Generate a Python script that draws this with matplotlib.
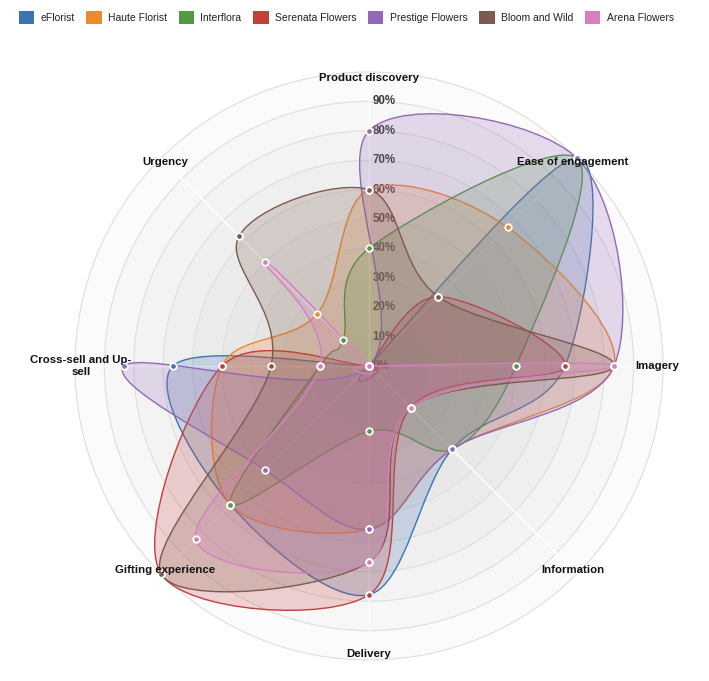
import matplotlib
matplotlib.use("Agg")
import matplotlib.pyplot as plt
import numpy as np
from matplotlib.path import Path
from matplotlib.patches import PathPatch, Circle, Rectangle

plt.rcParams['font.family'] = ['Liberation Sans', 'DejaVu Sans']

axes_names = ["Product discovery", "Ease of engagement", "Imagery", "Information",
              "Delivery", "Gifting experience", "Cross-sell and Up-\nsell", "Urgency"]

brands = ["eFlorist", "Haute Florist", "Interflora", "Serenata Flowers",
          "Prestige Flowers", "Bloom and Wild", "Arena Flowers"]
colors = ["#3e75b0", "#ef8a2c", "#529a43", "#c2403a", "#9369b5", "#7e5a4e", "#d680bf"]

# scores as fractions, in axis order above
eflorist = [0.0, 1.0, 4/6, 0.4, 7/9, 4/6, 4/6, 0.0]
haute    = [0.6, 4/6, 5/6, 0.4, 5/9, 4/6, 3/6, 2/8]
interflora = [0.4, 1.0, 3/6, 0.4, 2/9, 4/6, 1/6, 1/8]
serenata = [0.0, 1/3, 4/6, 0.2, 7/9, 1.0, 3/6, 0.0]
prestige = [0.8, 1.0, 5/6, 0.4, 5/9, 3/6, 5/6, 0.0]
bloom    = [0.6, 1/3, 5/6, 0.2, 6/9, 1.0, 2/6, 5/8]
arena    = [0.0, 0.0, 5/6, 0.2, 6/9, 5/6, 1/6, 4/8]
series = [eflorist, haute, interflora, serenata, prestige, bloom, arena]

ticks = [0.1, 0.2, 0.3, 0.4, 0.5, 0.6, 0.7, 0.8, 0.9]

W, H = 709, 681
cx, cy, R = 369, 366, 294

fig = plt.figure(figsize=(W / 100, H / 100), dpi=100)
ax = fig.add_axes([0, 0, 1, 1])
ax.set_xlim(-cx / R, (W - cx) / R)
ax.set_ylim(-(H - cy) / R, cy / R)
ax.axis("off")

n = len(axes_names)
angles = np.pi / 2 - 2 * np.pi * np.arange(n) / n

# background rings
for lvl in np.arange(10, 0, -1) / 10:
    ax.add_patch(Circle((0, 0), lvl, facecolor="#808080", alpha=0.028, edgecolor="none", zorder=1))
    ax.add_patch(Circle((0, 0), lvl, facecolor="none", edgecolor="#dedede", lw=0.8, zorder=1.5))
for a in angles:
    ax.plot([0, np.cos(a)], [0, np.sin(a)], color="white", lw=1, zorder=1.6)

for t in ticks:
    ax.text(0.012, t, f"{int(round(t * 100))}%", fontsize=8.3, fontweight="bold",
            color="#3a3a3a", ha="left", va="center", zorder=2)
ax.text(0.012, 0, "0%", fontsize=8.3, fontweight="bold", color="#3a3a3a",
        ha="left", va="center", zorder=2)

for name, a in zip(axes_names, angles):
    ax.text(0.98 * np.cos(a), 0.98 * np.sin(a), name, fontsize=8.2, fontweight="bold",
            color="#111111", ha="center", va="center", zorder=20, linespacing=1.15)


def cardinal_closed(xs, ys):
    pts = np.column_stack([xs, ys])
    m = len(pts)
    verts = [pts[0]]
    codes = [Path.MOVETO]
    for i in range(m):
        p0, p1, p2, p3 = pts[i - 1], pts[i], pts[(i + 1) % m], pts[(i + 2) % m]
        c1 = p1 + (p2 - p0) / 6
        c2 = p2 - (p3 - p1) / 6
        verts += [c1, c2, p2]
        codes += [Path.CURVE4] * 3
    return Path(np.array(verts), codes)


for k, (vals, col) in enumerate(zip(series, colors)):
    v = np.array(vals)
    xs = v * np.cos(angles)
    ys = v * np.sin(angles)
    path = cardinal_closed(xs, ys)
    ax.add_patch(PathPatch(path, facecolor=col, alpha=0.22, edgecolor="none", zorder=3 + k))
    ax.add_patch(PathPatch(path, facecolor="none", edgecolor=col, lw=1.0, zorder=3 + k))
    ax.scatter(xs, ys, s=22, color=col, edgecolor="white", linewidth=1.3, zorder=12 + k)

handles = [Rectangle((0, 0), 1, 1, facecolor=c) for c in colors]
fig.legend(handles, brands, loc="upper left", bbox_to_anchor=(0.016, 0.994), ncol=7,
           frameon=False, fontsize=7.5, handlelength=1.5, handleheight=1.5,
           handletextpad=0.6, columnspacing=1.1, borderaxespad=0.3, labelcolor="#222222")

fig.savefig("out.png", dpi=100)
